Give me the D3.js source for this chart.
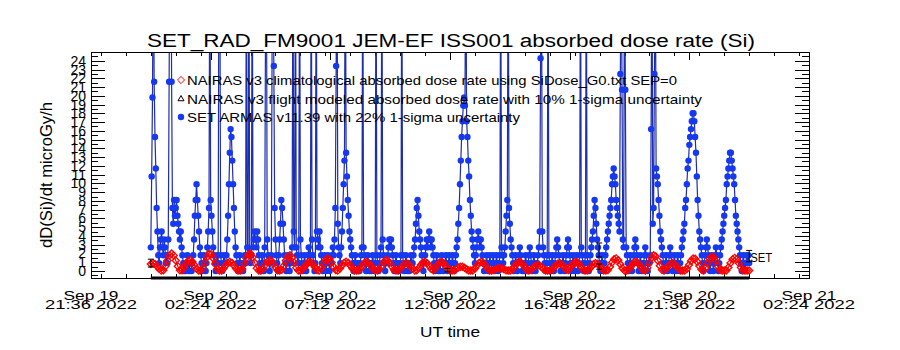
<!DOCTYPE html>
<html lang="en">
<head>
<meta charset="UTF-8">
<title>SET_RAD_FM9001 JEM-EF ISS001 absorbed dose rate (Si)</title>
<script src="https://cdn.jsdelivr.net/npm/d3@7"></script>
<style>
    body { margin: 0; background: #fff; }
    #chart { width: 900px; height: 350px; }
    text { font-family: "Liberation Sans", "DejaVu Sans", sans-serif; fill: #000; }
</style>
</head>
<body>
<div id="chart"></div>
<script>
    // x axis limits and the first sample (UT)
    var axisStart = Date.UTC(2022, 8, 19, 21, 36);
    var axisEnd = Date.UTC(2022, 8, 21, 2, 24);
    var sampleStart = Date.UTC(2022, 8, 20, 0, 0);

    var timeTicks = ["2022-09-19T21:36Z", "2022-09-20T02:24Z", "2022-09-20T07:12Z", "2022-09-20T12:00Z",
        "2022-09-20T16:48Z", "2022-09-20T21:36Z", "2022-09-21T02:24Z"];
    var yTicks = d3.range(0, 25);

    var legendLabels = [
        "NAIRAS v3 climatological absorbed dose rate using SiDose_G0.txt SEP=0",
        "NAIRAS v3 flight modeled absorbed dose rate with 10% 1-sigma uncertainty",
        "SET ARMAS v11.39 with 22% 1-sigma uncertainty"
    ];

    // SET ARMAS dose rate, one value every 2 min, one row per hour
    var armasStep = 2;
    var armasDose = [
        2.7,10.8,19.8,40,21.6,15.3,11.7,7.2,4.5,1.8,0.9,2.7,3.6,4.5,2.7,1.8,3.6,2.7,0.9,1.8,0.9,3.6,21.6,40,45,21.6,7.2,5.4,8.1,6.3,
        7.2,8.1,6.3,5.4,4.5,3.6,4.5,2.7,1.8,0.9,0,0.9,0,0.9,1.8,0.9,0,0.9,0.9,0,0.9,1.8,3.6,6.3,8.1,9.9,8.1,6.3,4.5,2.7,
        1.8,0.9,0,0.9,1.8,0.9,0,0.9,2.7,4.5,7.2,40,8.1,6.3,4.5,2.7,1.8,0.9,0,0.9,1.8,0.9,40,38,1.8,0.9,0,0.9,1.8,0.9,
        0.9,1.8,3.6,6.3,9.9,13.5,16.2,15.3,12.6,9.9,7.2,4.5,2.7,1.8,0.9,0,0.9,1.8,0.9,0,0.9,0,0.9,1.8,0.9,40,2.7,1.8,40,1.8,
        0.9,1.8,40,2.7,3.6,4.5,3.6,2.7,4.5,3.6,1.8,0.9,0,0.9,1.8,0.9,0,2.7,27.9,40,3.6,1.8,0.9,0,0.9,1.8,27.9,40,23.4,7.2,
        3.6,1.8,0.9,0,1.8,3.6,5.4,8.1,7.2,5.4,3.6,1.8,0.9,0,0.9,1.8,0.9,0,0.9,0.9,2.7,40,4.5,2.7,40,2.7,1.8,0.9,0.9,40,
        3.6,1.8,0.9,0,0.9,1.8,0.9,0,0.9,1.8,2.7,1.8,0.9,40,3.6,1.8,0.9,0,0.9,40,4.5,3.6,2.7,4.5,2.7,1.8,0.9,0,0.9,1.8,
        0.9,0,0.9,1.8,0.9,0,0.9,0.9,1.8,2.7,1.8,3.6,7.2,23.4,40,5.4,2.7,1.8,0.9,2.7,4.5,7.2,9.9,12.6,40,13.5,10.8,8.1,6.3,4.5,
        3.6,2.7,1.8,0.9,0,0.9,1.8,0.9,0,0.9,0.9,0,0.9,1.8,2.7,40,2.7,1.8,0.9,0,0.9,1.8,0.9,0,0.9,0,0.9,1.8,0.9,0,
        0.9,40,1.8,0.9,0,0.9,1.8,2.7,40,3.6,1.8,0.9,0,0.9,0.9,1.8,2.7,3.6,2.7,3.6,2.7,1.8,0.9,0,0.9,1.8,0.9,0,0.9,0,
        0.9,1.8,40,1.8,0.9,0,0.9,1.8,0.9,0,0.9,0,0.9,1.8,0.9,0.9,1.8,2.7,3.6,5.4,7.2,8.1,6.3,4.5,3.6,2.7,1.8,0.9,0,0.9,
        1.8,2.7,3.6,2.7,3.6,4.5,3.6,2.7,3.6,2.7,1.8,0.9,0,0.9,1.8,0.9,0,0.9,0,0.9,1.8,0.9,0,0.9,0.9,1.8,0.9,0,0.9,1.8,
        0.9,0,0.9,1.8,0.9,0,0.9,1.8,2.7,3.6,5.4,7.2,9.9,12.6,15.3,17.1,18.9,19.8,18.9,40,17.1,15.3,12.6,10.8,8.1,6.3,4.5,3.6,2.7,1.8,
        0.9,1.8,2.7,3.6,4.5,3.6,2.7,3.6,2.7,1.8,0.9,0,0.9,0.9,1.8,0.9,0,0.9,1.8,0.9,0,0.9,1.8,0.9,0,0.9,1.8,0.9,0,0.9,
        1.8,40,2.7,1.8,0.9,1.8,2.7,4.5,6.3,8.1,40,7.2,5.4,3.6,2.7,1.8,0.9,0,0.9,1.8,0.9,0,0.9,1.8,2.7,1.8,0.9,0,0.9,0,
        0.9,1.8,0.9,0,0.9,1.8,2.7,1.8,0.9,0,0.9,1.8,0.9,0,0.9,0.9,1.8,2.7,4.5,24.3,40,4.5,2.7,1.8,0.9,0,0.9,1.8,40,1.8,
        0.9,0,0.9,1.8,0.9,0,0.9,1.8,2.7,3.6,2.7,1.8,0.9,0,0.9,0.9,1.8,0.9,0,0.9,1.8,2.7,3.6,2.7,1.8,0.9,0,0.9,1.8,0.9,
        0,0.9,1.8,0.9,0,0.9,1.8,40,2.7,1.8,0.9,0,0.9,1.8,40,1.8,0.9,0,0.9,1.8,2.7,3.6,4.5,6.3,8.1,7.2,5.4,3.6,2.7,1.8,
        0.9,0,0.9,1.8,0.9,0,0.9,1.8,2.7,3.6,4.5,5.4,6.3,7.2,8.1,9.9,10.8,11.7,10.8,9.9,8.1,7.2,6.3,5.4,4.5,22.5,40,20.7,3.6,2.7,
        40,20.7,2.7,1.8,0.9,0,0.9,1.8,0.9,0,0.9,1.8,2.7,3.6,2.7,1.8,0.9,0,0.9,1.8,0.9,0,0.9,0.9,1.8,2.7,1.8,0.9,0,0.9,
        0.9,1.8,16.2,40,5.4,7.2,22.5,40,11.7,10.8,9.9,8.1,6.3,4.5,3.6,2.7,1.8,0.9,0,0.9,1.8,0.9,0,0.9,1.8,2.7,1.8,0.9,0,0.9,
        1.8,0.9,0,0.9,1.8,0.9,0,0.9,1.8,2.7,3.6,4.5,5.4,7.2,8.1,9.9,11.7,12.6,14.4,15.3,16.2,17.1,18,18,17.1,15.3,13.5,10.8,8.1,6.3,
        4.5,3.6,2.7,1.8,0.9,0,0.9,1.8,2.7,3.6,2.7,1.8,0.9,0,0.9,1.8,0.9,0,0.9,1.8,2.7,1.8,0.9,0,0.9,1.8,2.7,3.6,4.5,5.4,
        6.3,7.2,8.1,9.9,10.8,11.7,12.6,13.5,13.5,12.6,11.7,10.8,9.9,8.1,6.3,5.4,4.5,3.6,2.7,1.8,0.9,0,0.9,1.8,0.9,0,0.9,1.8,0.9,1.8,
        0.9
    ];

    // NAIRAS climatological dose rate, one value every 5 min, one row per hour
    var nairasStep = 5;
    var nairasDose = [
        0.80,0.90,0.80,0.54,0.24,0.05,0.08,0.54,1.20,1.78,2.00,1.78,
        1.20,0.54,0.08,0.09,0.42,0.83,1.16,1.24,1.05,0.67,0.26,0.05,
        0.05,0.32,0.93,1.58,1.96,1.92,1.46,0.80,0.22,0.05,0.05,0.28,
        0.63,0.93,1.05,0.93,0.63,0.28,0.05,0.05,0.22,0.80,1.46,1.92,
        1.96,1.58,0.93,0.32,0.05,0.05,0.26,0.67,1.05,1.24,1.16,0.83,
        0.42,0.09,0.05,0.13,0.60,1.20,1.67,1.79,1.51,0.96,0.38,0.05,
        0.05,0.17,0.49,0.83,1.03,1.01,0.77,0.42,0.12,0.05,0.31,0.77,
        1.22,1.44,1.34,0.97,0.48,0.11,0.05,0.28,0.63,0.93,1.05,0.93,
        0.63,0.28,0.05,0.05,0.08,0.35,0.70,0.97,1.05,0.88,0.56,0.22,
        0.05,0.05,0.20,0.58,0.99,1.23,1.20,0.91,0.50,0.14,0.05,0.05,
        0.24,0.54,0.80,0.90,0.80,0.54,0.24,0.05,0.08,0.35,0.70,0.97,
        1.05,0.88,0.56,0.22,0.08,0.35,0.70,0.97,1.05,0.88,0.56,0.22,
        0.05,0.05,0.08,0.23,0.39,0.49,0.48,0.37,0.20,0.06,0.05,0.05,
        0.28,0.63,0.93,1.05,0.93,0.63,0.28,0.05,0.05,0.12,0.23,0.32,
        0.35,0.29,0.19,0.07,0.05,0.05,0.17,0.49,0.83,1.03,1.01,0.77,
        0.42,0.12,0.05,0.15,0.37,0.59,0.70,0.65,0.47,0.23,0.05,0.05,
        0.05,0.10,0.36,0.66,0.86,0.88,0.71,0.42,0.14,0.12,0.42,0.77,
        1.01,1.03,0.83,0.49,0.17,0.05,0.05,0.19,0.48,0.76,0.90,0.83,
        0.60,0.30,0.07,0.05,0.11,0.48,0.97,1.34,1.44,1.22,0.77,0.31,
        0.05,0.05,0.17,0.49,0.83,1.03,1.01,0.77,0.42,0.12,0.05,0.38,
        0.96,1.51,1.79,1.67,1.20,0.60,0.13,0.05,0.24,0.54,0.80,0.90,
        0.80,0.54,0.24,0.05,0.05,0.05,0.23,0.68,1.14,1.42,1.39,1.06,
        0.58,0.16,0.05,0.35,0.88,1.39,1.64,1.53,1.10,0.55,0.12,0.05,
        0.05,0.06,0.41,0.90,1.33,1.50,1.33,0.90,0.41,0.06,0.05,0.05,
        0.05
    ];

    // NAIRAS flight modeled dose rate, hourly
    var flightStep = 60;
    var flightDose = [-0.8,-0.8,-0.8,-0.8,-0.8,-0.8,-0.8,-0.8,-0.8,-0.8,-0.8,-0.8,-0.8,
        -0.8,-0.8,-0.8,-0.8,-0.8,-0.8,-0.8,-0.8,-0.8,-0.8,-0.8,-0.8];

    // error bars: minutes after first sample, centre, half height
    var errMinute = [0, 714, 1079, 1079, 1440];
    var errMid = [0.9, 0.1, 2.4, 0.5, 1.7];
    var errHalf = [0.45, 0.2, 0.8, 0.3, 0.65];

    var W = 900, H = 350;
    var x = d3.scaleUtc().domain([axisStart, axisEnd]).range([91, 809]);
    var y = d3.scaleLinear().domain([-0.8, 25]).range([278, 52]);

    function minuteDate(m) {
        return new Date(sampleStart + m * 60000);
    }
    var toPoints = function (arr, step) {
        return arr.map(function (v, i) {
            return {t: minuteDate(i * step), v: v};
        });
    };
    var armas = toPoints(armasDose, armasStep);
    var nairas = toPoints(nairasDose, nairasStep);
    var flight = toPoints(flightDose, flightStep);

    var svg = d3.select("#chart").append("svg")
        .attr("width", W)
        .attr("height", H);

    svg.append("defs").append("clipPath")
        .attr("id", "plotClip")
        .append("rect")
        .attr("x", x.range()[0])
        .attr("y", y.range()[1])
        .attr("width", x.range()[1] - x.range()[0])
        .attr("height", y.range()[0] - y.range()[1]);

    // 轴
    var majorTimes = timeTicks.map(function (s) { return new Date(s); });
    var minorTimes = d3.utcMinute.every(72).range(new Date(axisStart), new Date(axisEnd + 1));

    function tickAxis(axis, g) {
        g.call(axis);
        g.select(".domain").remove();
        g.selectAll("line").attr("stroke", "#000").attr("shape-rendering", "crispEdges");
        g.selectAll("text").remove();
    }
    tickAxis(d3.axisBottom(x).tickValues(minorTimes).tickSize(-4),
        svg.append("g").attr("transform", "translate(0,278)"));
    tickAxis(d3.axisBottom(x).tickValues(majorTimes).tickSize(-8),
        svg.append("g").attr("transform", "translate(0,278)"));
    tickAxis(d3.axisTop(x).tickValues(minorTimes).tickSize(-4),
        svg.append("g").attr("transform", "translate(0,52)"));
    tickAxis(d3.axisTop(x).tickValues(majorTimes).tickSize(-8),
        svg.append("g").attr("transform", "translate(0,52)"));

    var yMinor = d3.range(-0.5, 25, 1);
    tickAxis(d3.axisLeft(y).tickValues(yMinor).tickSize(-7),
        svg.append("g").attr("transform", "translate(91,0)"));
    tickAxis(d3.axisLeft(y).tickValues(yTicks).tickSize(-14),
        svg.append("g").attr("transform", "translate(91,0)"));
    tickAxis(d3.axisRight(y).tickValues(yMinor).tickSize(-7),
        svg.append("g").attr("transform", "translate(809,0)"));
    tickAxis(d3.axisRight(y).tickValues(yTicks).tickSize(-14),
        svg.append("g").attr("transform", "translate(809,0)"));

    // y tick labels (in the original they run into each other)
    svg.append("g").selectAll("text")
        .data(yTicks)
        .enter()
        .append("text")
        .attr("x", 86)
        .attr("y", function (d) { return y(d) + 5; })
        .attr("text-anchor", "end")
        .attr("font-size", 14)
        .text(function (d) { return d; });

    // x tick labels, two lines each
    var fmtDay = d3.utcFormat("%b %d");
    var fmtTime = d3.utcFormat("%H:%M %Y");
    var xl = svg.append("g").selectAll("g")
        .data(majorTimes)
        .enter()
        .append("g");
    xl.append("text")
        .attr("x", function (d) { return x(d); })
        .attr("y", 299.5)
        .attr("text-anchor", "middle")
        .attr("font-size", 12.5)
        .attr("textLength", 55)
        .attr("lengthAdjust", "spacingAndGlyphs")
        .text(function (d) { return fmtDay(d); });
    xl.append("text")
        .attr("x", function (d) { return x(d); })
        .attr("y", 308.5)
        .attr("text-anchor", "middle")
        .attr("font-size", 12.5)
        .attr("textLength", 92)
        .attr("lengthAdjust", "spacingAndGlyphs")
        .text(function (d) { return fmtTime(d); });

    // 数据
    var plot = svg.append("g").attr("clip-path", "url(#plotClip)");

    var line = d3.line()
        .x(function (d) { return x(d.t); })
        .y(function (d) { return y(d.v); });

    // flight modeled, sits on the bottom axis
    svg.append("path")
        .datum(flight)
        .attr("d", line)
        .attr("fill", "none")
        .attr("stroke", "#000")
        .attr("stroke-width", 3);

    plot.append("path")
        .datum(armas)
        .attr("d", line)
        .attr("fill", "none")
        .attr("stroke", "#1e2eb0")
        .attr("stroke-width", 1.2);
    plot.append("g").selectAll("circle")
        .data(armas)
        .enter()
        .append("circle")
        .attr("cx", function (d) { return x(d.t); })
        .attr("cy", function (d) { return y(d.v); })
        .attr("r", 3.2)
        .attr("fill", "#1638f0");

    plot.append("path")
        .datum(nairas)
        .attr("d", line)
        .attr("fill", "none")
        .attr("stroke", "#ff0000")
        .attr("stroke-width", 1.2);
    var diamond = d3.symbol().type(d3.symbolDiamond2).size(32);
    plot.append("g").selectAll("path")
        .data(nairas)
        .enter()
        .append("path")
        .attr("transform", function (d) { return "translate(" + x(d.t) + "," + y(d.v) + ")"; })
        .attr("d", diamond)
        .attr("fill", "none")
        .attr("stroke", "#ff0000")
        .attr("stroke-width", 1.3);

    // error bars
    var eb = svg.append("g").selectAll("g")
        .data(errMinute)
        .enter()
        .append("g")
        .attr("stroke", "#000")
        .attr("stroke-width", 1);
    eb.append("line")
        .attr("x1", function (d) { return x(minuteDate(d)); })
        .attr("x2", function (d) { return x(minuteDate(d)); })
        .attr("y1", function (d, i) { return y(errMid[i] - errHalf[i]); })
        .attr("y2", function (d, i) { return y(errMid[i] + errHalf[i]); });
    [-1, 1].forEach(function (s) {
        eb.append("line")
            .attr("x1", function (d) { return x(minuteDate(d)) - 3; })
            .attr("x2", function (d) { return x(minuteDate(d)) + 3; })
            .attr("y1", function (d, i) { return y(errMid[i] + s * errHalf[i]); })
            .attr("y2", function (d, i) { return y(errMid[i] + s * errHalf[i]); });
    });

    svg.append("text")
        .attr("x", x(minuteDate(1440)) + 1)
        .attr("y", 262)
        .attr("font-size", 13.5)
        .attr("textLength", 22)
        .attr("lengthAdjust", "spacingAndGlyphs")
        .text("SET");

    // frame
    svg.append("rect")
        .attr("x", 91.5).attr("y", 52.5)
        .attr("width", 718).attr("height", 226)
        .attr("fill", "none")
        .attr("stroke", "#000")
        .attr("stroke-width", 1);

    // legend
    var legendW = [490, 515, 333];
    var legendY = [85, 104, 122];
    var lg = svg.append("g");
    lg.selectAll("text")
        .data(legendLabels)
        .enter()
        .append("text")
        .attr("x", 187)
        .attr("y", function (d, i) { return legendY[i]; })
        .attr("font-size", 13.5)
        .attr("textLength", function (d, i) { return legendW[i]; })
        .attr("lengthAdjust", "spacingAndGlyphs")
        .text(function (d) { return d; });
    lg.append("path")
        .attr("transform", "translate(181,80)")
        .attr("d", diamond)
        .attr("fill", "none")
        .attr("stroke", "#ff0000");
    lg.append("path")
        .attr("transform", "translate(181,99)")
        .attr("d", d3.symbol().type(d3.symbolTriangle2).size(26))
        .attr("fill", "none")
        .attr("stroke", "#000");
    lg.append("circle")
        .attr("cx", 181).attr("cy", 117).attr("r", 3.2)
        .attr("fill", "#1638f0");

    // titles
    svg.append("text")
        .attr("x", 451)
        .attr("y", 47)
        .attr("text-anchor", "middle")
        .attr("font-size", 18)
        .attr("textLength", 608)
        .attr("lengthAdjust", "spacingAndGlyphs")
        .text("SET_RAD_FM9001  JEM-EF ISS001 absorbed dose rate (Si)");
    svg.append("text")
        .attr("x", 450)
        .attr("y", 337)
        .attr("text-anchor", "middle")
        .attr("font-size", 14)
        .attr("textLength", 60)
        .attr("lengthAdjust", "spacingAndGlyphs")
        .text("UT time");
    svg.append("text")
        .attr("transform", "translate(52,175) rotate(-90)")
        .attr("text-anchor", "middle")
        .attr("font-size", 17)
        .attr("textLength", 146)
        .attr("lengthAdjust", "spacingAndGlyphs")
        .text("dD(Si)/dt microGy/h");
</script>
</body>
</html>
